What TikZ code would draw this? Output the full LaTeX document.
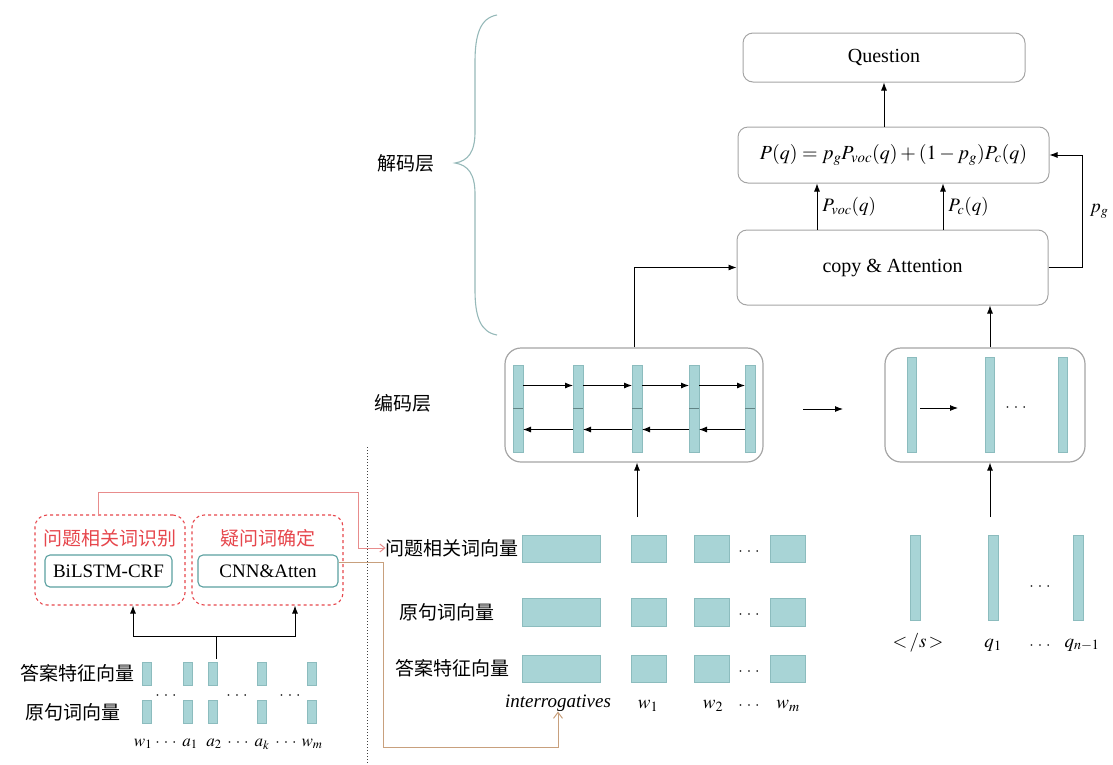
\documentclass[tikz,border=0pt]{standalone}
\usepackage{mathptmx}
\usepackage{fontspec}
\setmainfont{Liberation Serif}
\newfontfamily\cjk{Noto Sans CJK SC}
\usetikzlibrary{arrows.meta}

\definecolor{barfill}{RGB}{168,212,214}
\definecolor{barline}{RGB}{140,188,190}
\definecolor{boxgray}{RGB}{165,165,165}
\definecolor{dashred}{RGB}{230,70,76}
\definecolor{tealline}{RGB}{90,160,160}
\definecolor{bracecol}{RGB}{150,185,185}
\definecolor{pinkline}{RGB}{232,140,140}
\definecolor{tanline}{RGB}{200,160,125}

\tikzset{
  vec/.style={draw=barline, fill=barfill, line width=0.6pt, inner sep=0pt, outer sep=0pt},
  rbox/.style={draw=boxgray, rounded corners=10pt, line width=1pt, inner sep=0pt},
  ibox/.style={draw=boxgray, rounded corners=16pt, line width=1.2pt, inner sep=0pt},
  redbox/.style={draw=dashred, dashed, rounded corners=12pt, line width=1.1pt, inner sep=0pt},
  tealbox/.style={draw=tealline, rounded corners=5pt, line width=1.1pt, inner sep=0pt},
  arr/.style={draw=black, line width=0.9pt, -{Latex[length=8pt,width=6pt]}},
  cjkl/.style={font=\cjk\fontsize{19}{22}\selectfont, inner sep=0pt},
  redl/.style={font=\cjk\fontsize{19}{22}\selectfont, text=dashred, inner sep=0pt},
  latl/.style={font=\fontsize{20}{23}\selectfont, inner sep=0pt},
  mathl/.style={font=\fontsize{19}{22}\selectfont, inner sep=0pt},
  smath/.style={font=\fontsize{17}{20}\selectfont, inner sep=0pt},
  dots/.style={font=\fontsize{16}{18}\selectfont, inner sep=0pt},
}
\newcommand{\spdots}{$\cdot\,\cdot\,\cdot$}

\begin{document}
\begin{tikzpicture}[x=1pt, y=-1pt]
\useasboundingbox (0,0) rectangle (1113,764);

% ---------- decoder side ----------
\node[rbox, minimum width=282pt, minimum height=49pt, latl] (question) at (884,57.5) {Question};
\node[rbox, minimum width=311pt, minimum height=56pt, font=\fontsize{20}{23}\selectfont] (pq) at (893.5,155)
  {$P(q) = p_g P_{voc}(q) + (1 - p_g)P_c(q)$};
\node[rbox, minimum width=311pt, minimum height=75pt, latl] (copy) at (892.5,267.5) {copy \& Attention};

\coordinate (xv) at (817,0);
\coordinate (xc) at (943,0);
\coordinate (xd) at (990,0);
\draw[arr] (question.south |- pq.north) -- (question.south);
\draw[arr] (copy.north -| xv) -- node[right=5pt, mathl, pos=0.5] (lvoc) {$P_{voc}(q)$} (pq.south -| xv);
\draw[arr] (copy.north -| xc) -- node[right=5pt, mathl, pos=0.5] (lc) {$P_c(q)$} (pq.south -| xc);
\draw[arr] (copy.east) -- ++(34,0) |- node[pos=0.25, right=7pt, mathl] (lpg) {$p_g$} (pq.east);

% brace and layer names
\draw[bracecol, line width=1.1pt]
  (497,15) .. controls (480,18) and (475,35) .. (475,62) -- (475,132)
  .. controls (475,152) and (468,161) .. (455,163)
  .. controls (468,165) and (475,174) .. (475,194) -- (475,290)
  .. controls (475,316) and (480,332) .. (497,335);
\node[cjkl] (declab) at (406,163) {解码层};
\node[cjkl] (enclab) at (403,403) {编码层};

% ---------- encoder ----------
\node[ibox, minimum width=258pt, minimum height=114pt] (enc) at (634,405) {};
\foreach \i/\x in {1/518,2/578,3/637,4/694,5/750}{
  \node[vec, minimum width=10pt, minimum height=87pt] (e\i) at (\x,408.5) {};
  \draw[barline!70!black, line width=1pt] (e\i.west |- 0,408) -- (e\i.east |- 0,408);
}
\foreach \a/\b in {1/2,2/3,3/4,4/5}{
  \draw[arr] ([yshift=23pt]e\a.east) -- ([yshift=23pt]e\b.west);
  \draw[arr] ([yshift=-21pt]e\b.west) -- ([yshift=-21pt]e\a.east);
}
\draw[arr] (enc.north) |- (copy.west);

% ---------- decoder states ----------
\node[ibox, minimum width=200pt, minimum height=114pt] (dec) at (985,405) {};
\node[vec, minimum width=9pt, minimum height=95pt] (d1) at (912,404.5) {};
\node[vec, minimum width=9pt, minimum height=95pt] (d2) at (990,404.5) {};
\node[vec, minimum width=9pt, minimum height=95pt] (d3) at (1063,404.5) {};
\coordinate (da) at (920,408);
\coordinate (db) at (958,408);
\draw[arr] (da) -- (db);
\node[dots] (ddots) at (1016,408) {\spdots};
\draw[arr] (dec.north -| xd) -- (copy.south -| xd);

\coordinate (m1) at (803,409);
\coordinate (m2) at (843,409);
\draw[arr] (m1) -- (m2);

% ---------- encoder inputs ----------
\foreach \r/\y/\h in {1/548.5/27,2/612/28,3/668.5/27}{
  \node[vec, minimum width=78pt, minimum height=\h pt] (big\r) at (561,\y) {};
  \node[vec, minimum width=35pt, minimum height=\h pt] (wa\r) at (648.5,\y) {};
  \node[vec, minimum width=35pt, minimum height=\h pt] (wb\r) at (711.5,\y) {};
  \node[vec, minimum width=35pt, minimum height=\h pt] (wm\r) at (787.5,\y) {};
  \node[dots] (rd\r) at (749,\y+3) {\spdots};
}
\node[cjkl, anchor=east] (lab1) at (519,548) {问题相关词向量};
\node[cjkl] (lab2) at (447,612) {原句词向量};
\node[cjkl, anchor=east] (lab3) at (510,668) {答案特征向量};
\node[font=\itshape\fontsize{19}{21}\selectfont, inner sep=0pt] (interr) at (558,703) {interrogatives};
\node[mathl] (tw1) at (648,706) {$w_1$};
\node[mathl] (tw2) at (713,706) {$w_2$};
\node[dots] (tdots) at (749,706) {\spdots};
\node[mathl] (twm) at (788,706) {$w_m$};
\coordinate (ea) at (637,517);
\draw[arr] (ea) -- (enc.south -| ea);

% ---------- decoder inputs ----------
\node[vec, minimum width=10pt, minimum height=85pt] (q0) at (915,577.5) {};
\node[vec, minimum width=10pt, minimum height=85pt] (q1) at (993,577.5) {};
\node[vec, minimum width=10pt, minimum height=85pt] (q2) at (1078,577.5) {};
\node[dots] (qdots) at (1040,587) {\spdots};
\node[mathl] (ts) at (918,643) {$<\!/s\!>$};
\node[mathl] (tq1) at (993,645) {$q_1$};
\node[dots] (tqd) at (1040,646) {\spdots};
\node[mathl] (tqn) at (1082,645) {$q_{n-1}$};
\coordinate (qa) at (990,517);
\draw[arr] (qa) -- (dec.south -| qa);

% ---------- divider ----------
\draw[black!75, line width=1pt, dotted] (367,447) -- (367,764);

% ---------- left: recognition modules ----------
\node[redbox, minimum width=150pt, minimum height=90pt] (box1) at (110,560) {};
\node[redbox, minimum width=151pt, minimum height=90pt] (box2) at (267.5,560) {};
\node[redl] (t1) at (110,538) {问题相关词识别};
\node[redl] (t2) at (268,538) {疑问词确定};
\node[tealbox, minimum width=127pt, minimum height=32pt, font=\fontsize{19}{22}\selectfont] (bil) at (108.5,571) {BiLSTM-CRF};
\node[tealbox, minimum width=140pt, minimum height=32pt, font=\fontsize{19}{22}\selectfont] (cnn) at (268,571) {CNN\&Atten};

\coordinate (rA) at (98,0);
\coordinate (rB) at (358,492);
\draw[pinkline, line width=1pt, -{Straight Barb[length=5pt,width=8pt]}]
  (box1.north -| rA) |- (rB) |- (lab1.west);
\coordinate (bA) at (383,747);
\draw[tanline, line width=1pt, -{Straight Barb[length=6pt,width=9pt]}]
  ([yshift=9pt]cnn.east) -| (bA) -| (interr.south);

% small feature vectors
\foreach \i/\x in {1/147,2/188,3/213,4/262,5/312}{
  \node[vec, minimum width=9pt, minimum height=23pt] (fa\i) at (\x,673.5) {};
  \node[vec, minimum width=9pt, minimum height=23pt] (fw\i) at (\x,711.5) {};
}
\node[dots] (fd1) at (166,696) {\spdots};
\node[dots] (fd2) at (237,696) {\spdots};
\node[dots] (fd3) at (290,696) {\spdots};
\node[cjkl] (fl1) at (77,673) {答案特征向量};
\node[cjkl] (fl2) at (73,712) {原句词向量};
\node[smath] (lw1) at (143,744) {$w_1$};
\node[dots] (ld1) at (166,743) {\spdots};
\node[smath] (la1) at (190,744) {$a_1$};
\node[smath] (la2) at (214,744) {$a_2$};
\node[dots] (ld2) at (238,743) {\spdots};
\node[smath] (lak) at (262,744) {$a_k$};
\node[dots] (ld3) at (286,743) {\spdots};
\node[smath] (lwm) at (312,744) {$w_m$};

\coordinate (ja) at (216,659);
\coordinate (j) at (216,636);
\coordinate (xl) at (133,0);
\coordinate (xr) at (295,0);
\draw[black, line width=0.9pt] (ja) -- (j);
\draw[arr] (j) -| (box1.south -| xl);
\draw[arr] (j) -| (box2.south -| xr);
\end{tikzpicture}
\end{document}
